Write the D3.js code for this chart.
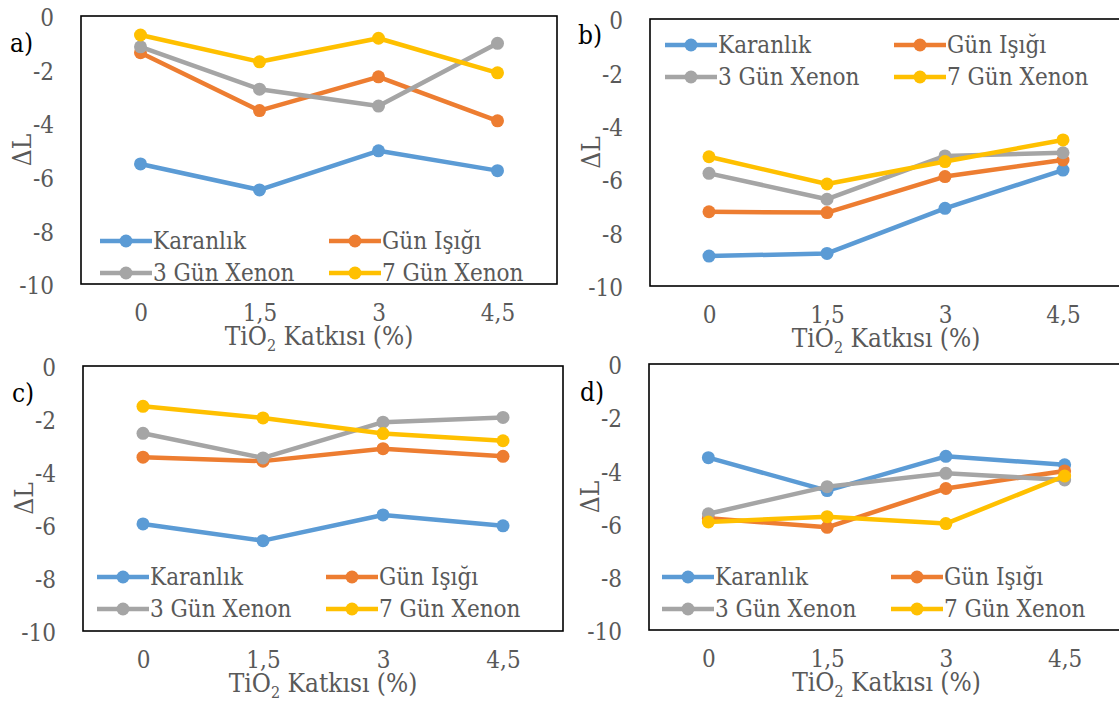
<!DOCTYPE html>
<html>
<head>
<meta charset="utf-8">
<script src="https://cdn.jsdelivr.net/npm/d3@7/dist/d3.min.js"></script>
<style>
  html, body { margin: 0; padding: 0; background: #fff; }
  svg { display: block; }
  svg text { font-family: 'DejaVu Serif', serif; font-stretch: condensed; }
</style>
</head>
<body>
<svg id="chart" width="1119" height="702"></svg>
<script>
// categories and series
var categories = ['0', '1,5', '3', '4,5'];
var seriesNames = ['Karanlık', 'Gün Işığı', '3 Gün Xenon', '7 Gün Xenon'];
var seriesColors = ['#5B9BD5', '#ED7D31', '#A5A5A5', '#FFC000'];
var yTicks = [0, -2, -4, -6, -8, -10];

// values per panel, one row per series (same order as seriesNames)
var panelA = [
  [-5.52, -6.49, -5.03, -5.77],
  [-1.37, -3.53, -2.27, -3.91],
  [-1.15, -2.73, -3.36, -1.02],
  [-0.71, -1.71, -0.83, -2.12]
];
var panelB = [
  [-8.88, -8.78, -7.09, -5.66],
  [-7.22, -7.25, -5.90, -5.28],
  [-5.78, -6.75, -5.13, -5.01],
  [-5.16, -6.18, -5.34, -4.53]
];
var panelC = [
  [-5.96, -6.59, -5.62, -6.03],
  [-3.44, -3.59, -3.12, -3.41],
  [-2.54, -3.47, -2.12, -1.94],
  [-1.52, -1.96, -2.55, -2.82]
];
var panelD = [
  [-3.52, -4.76, -3.47, -3.79],
  [-5.80, -6.14, -4.68, -4.02],
  [-5.63, -4.61, -4.11, -4.36],
  [-5.94, -5.74, -6.00, -4.21]
];

var layout = [
  {label: 'a)', data: panelA, left: 81, right: 557, top: 16, bottom: 284, lx: 19, ly: 241, tag: [10, 43]},
  {label: 'b)', data: panelB, left: 650, right: 1122, top: 19, bottom: 286, lx: 15, ly: 45, tag: [578, 35]},
  {label: 'c)', data: panelC, left: 83, right: 563, top: 366, bottom: 631, lx: 14, ly: 577, tag: [12, 393]},
  {label: 'd)', data: panelD, left: 649, right: 1124, top: 364, bottom: 630, lx: 13, ly: 577, tag: [580, 392]}
];

var svg = d3.select('#chart');
var grey = '#595959';

layout.forEach(function(p) {
  var x = d3.scalePoint().domain(categories).range([p.left, p.right]).padding(0.5);
  var y = d3.scaleLinear().domain([-10, 0]).range([p.bottom, p.top]);
  var g = svg.append('g');

  // y axis labels
  var yAxis = g.append('g')
    .attr('transform', 'translate(' + (p.left - 27) + ',2)')
    .call(d3.axisLeft(y).tickValues(yTicks).tickSize(0).tickPadding(0).tickFormat(function(d) { return String(d); }));
  yAxis.attr('font-family', null);
  yAxis.select('.domain').remove();
  yAxis.selectAll('text').attr('font-size', 24).attr('fill', grey);

  // x axis labels
  var xAxis = g.append('g')
    .attr('transform', 'translate(0,' + (p.bottom + 20) + ')')
    .call(d3.axisBottom(x).tickSize(0).tickPadding(0));
  xAxis.attr('font-family', null);
  xAxis.select('.domain').remove();
  xAxis.selectAll('text').attr('font-size', 24).attr('fill', grey);

  // axis titles
  var title = g.append('text')
    .attr('x', (p.left + p.right) / 2).attr('y', p.bottom + 61)
    .attr('text-anchor', 'middle').attr('font-size', 26).attr('fill', grey);
  title.append('tspan').text('TiO');
  title.append('tspan').attr('font-size', 16).attr('dy', 6).text('2');
  title.append('tspan').attr('dy', -6).text(' Katkısı (%)');

  g.append('text')
    .attr('transform', 'translate(' + (p.left - 50) + ',' + ((p.top + p.bottom) / 2) + ') rotate(-90)')
    .attr('text-anchor', 'middle').attr('font-size', 26).attr('fill', grey)
    .text('ΔL');

  g.append('text')
    .attr('x', p.tag[0]).attr('y', p.tag[1]).attr('dy', '0.35em')
    .attr('font-size', 26).attr('fill', '#000')
    .text(p.label);

  // plot frame
  g.append('rect')
    .attr('x', p.left).attr('y', p.top)
    .attr('width', p.right - p.left).attr('height', p.bottom - p.top)
    .attr('fill', 'none').attr('stroke', '#000').attr('stroke-width', 1.6);

  // series
  var line = d3.line()
    .x(function(d, i) { return x(categories[i]); })
    .y(function(d) { return y(d); });

  p.data.forEach(function(vals, si) {
    g.append('path')
      .attr('d', line(vals))
      .attr('fill', 'none').attr('stroke', seriesColors[si])
      .attr('stroke-width', 4.5).attr('stroke-linejoin', 'round').attr('stroke-linecap', 'round');
    g.selectAll(null).data(vals).enter().append('circle')
      .attr('cx', function(d, i) { return x(categories[i]); })
      .attr('cy', function(d) { return y(d); })
      .attr('r', 6.5).attr('fill', seriesColors[si]);
  });

  // legend
  var lg = g.append('g').attr('transform', 'translate(' + (p.left + p.lx) + ',' + p.ly + ')');
  seriesNames.forEach(function(name, si) {
    var col = si % 2, row = Math.floor(si / 2);
    var item = lg.append('g').attr('transform', 'translate(' + (col * 229) + ',' + (row * 32) + ')');
    item.append('line').attr('x1', 0).attr('x2', 52).attr('y1', 0).attr('y2', 0)
      .attr('stroke', seriesColors[si]).attr('stroke-width', 4.5);
    item.append('circle').attr('cx', 26).attr('cy', 0).attr('r', 6.5).attr('fill', seriesColors[si]);
    item.append('text').attr('x', 53).attr('y', 0).attr('dy', '0.35em')
      .attr('font-size', 24).attr('fill', grey).text(name);
  });
});
</script>
</body>
</html>
